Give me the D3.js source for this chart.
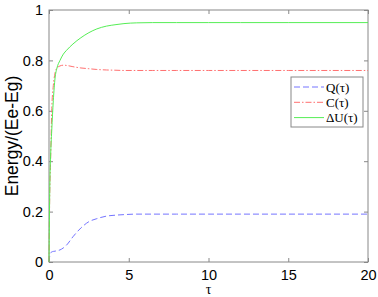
<!DOCTYPE html>
<html><head><meta charset="utf-8">
<script src="https://cdn.jsdelivr.net/npm/d3@7"></script>
<style>body{margin:0;background:#fff}</style>
</head><body>
<svg id="c" width="378" height="297"></svg>
<script>
const tau   = [0, 0.05, 0.1, 0.17, 0.27, 0.38, 0.5, 0.69, 0.9, 1.1, 1.5, 2.0, 2.5, 3.0, 3.6, 4.2, 4.7, 5.5, 6.5, 8, 10, 12, 15, 20];
const dU    = [0, 0.3, 0.42, 0.52, 0.64, 0.73, 0.77, 0.80, 0.825, 0.84, 0.865, 0.89, 0.91, 0.925, 0.936, 0.942, 0.946, 0.949, 0.95, 0.95, 0.95, 0.95, 0.95, 0.95];
const C     = [0, 0.28, 0.4, 0.6, 0.7, 0.75, 0.77, 0.778, 0.781, 0.78, 0.775, 0.77, 0.767, 0.764, 0.762, 0.761, 0.76, 0.76, 0.76, 0.76, 0.76, 0.76, 0.76, 0.76];
const Q     = [0, 0.025, 0.035, 0.04, 0.042, 0.043, 0.045, 0.048, 0.056, 0.067, 0.1, 0.135, 0.16, 0.172, 0.182, 0.186, 0.188, 0.19, 0.19, 0.19, 0.19, 0.19, 0.19, 0.19];
const xTicks = [0, 5, 10, 15, 20];
const yTicks = [0, 0.2, 0.4, 0.6, 0.8, 1];
const seriesNames = ["Q(\u03c4)", "C(\u03c4)", "\u0394U(\u03c4)"];
const seriesColors = ["#7474ff", "#ff7070", "#55ee55"];
const seriesDash = ["6,3", "6,2,1.5,2", null];

const svg = d3.select("#c");
const L = 49, R = 368, T = 10, B = 262;
const x = d3.scaleLinear().domain([0, 20]).range([L, R]);
const y = d3.scaleLinear().domain([0, 1]).range([B, T]);
const axc = "#888";

svg.append("rect").attr("x", L).attr("y", T).attr("width", R - L).attr("height", B - T)
  .attr("fill", "none").attr("stroke", axc).attr("stroke-width", 1);

const font = "Liberation Sans, Arial, sans-serif";
const bx = svg.append("g").attr("transform", `translate(0,${B})`)
  .call(d3.axisBottom(x).tickValues(xTicks).tickSize(-4).tickPadding(8).tickFormat(d3.format("d")));
const by = svg.append("g").attr("transform", `translate(${L},0)`)
  .call(d3.axisLeft(y).tickValues(yTicks).tickSize(-4).tickPadding(6).tickFormat(d => d === 0 || d === 1 ? String(d) : d3.format(".1f")(d)));
const tx = svg.append("g").attr("transform", `translate(0,${T})`)
  .call(d3.axisTop(x).tickValues(xTicks).tickSize(-4).tickFormat(""));
const ry = svg.append("g").attr("transform", `translate(${R},0)`)
  .call(d3.axisRight(y).tickValues(yTicks).tickSize(-4).tickFormat(""));
[bx, by, tx, ry].forEach(a => {
  a.select(".domain").remove();
  a.selectAll("line").attr("stroke", axc);
  a.selectAll("text").attr("font-family", font).attr("font-size", 14.5).attr("fill", "#000");
});

const data = [Q, C, dU];
const line = d3.line().x((d, i) => x(tau[i])).y(d => y(d)).curve(d3.curveMonotoneX);
data.forEach((s, k) => {
  svg.append("path").datum(s).attr("d", line).attr("fill", "none")
    .attr("stroke", seriesColors[k]).attr("stroke-width", 1)
    .attr("stroke-dasharray", seriesDash[k]);
});

svg.append("text").attr("x", x(10)).attr("y", 294).attr("text-anchor", "middle")
  .attr("font-family", "Liberation Serif, Times New Roman, serif").attr("font-size", 14).text("\u03c4");
svg.append("text").attr("transform", `translate(18,${(T + B) / 2}) rotate(-90)`)
  .attr("text-anchor", "middle").attr("font-family", font).attr("font-size", 17.5).text("Energy/(Ee-Eg)");

const lg = svg.append("g");
lg.append("rect").attr("x", 291).attr("y", 77).attr("width", 72).attr("height", 50)
  .attr("fill", "#fff").attr("stroke", axc).attr("stroke-width", 1);
seriesNames.forEach((n, k) => {
  const yy = 87 + k * 15.3;
  lg.append("line").attr("x1", 294).attr("x2", 324).attr("y1", yy).attr("y2", yy)
    .attr("stroke", seriesColors[k]).attr("stroke-width", 1).attr("stroke-dasharray", seriesDash[k]);
  lg.append("text").attr("x", 326).attr("y", yy + 4.5)
    .attr("font-family", "Liberation Serif, Times New Roman, serif").attr("font-size", 13).text(n);
});
</script>
</body></html>
